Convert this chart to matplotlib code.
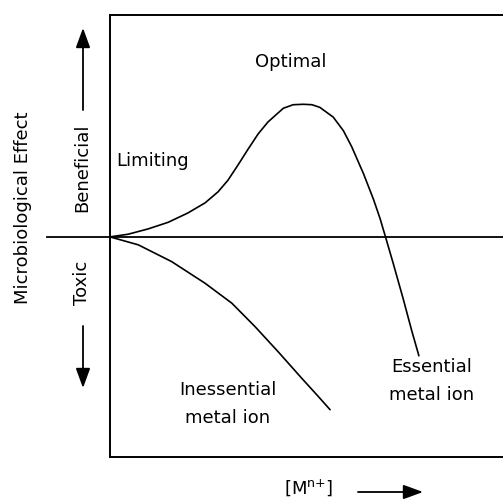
import matplotlib
matplotlib.use("Agg")
import matplotlib.pyplot as plt

# Essential metal ion curve (concentration, effect) in arbitrary units
ess_x = [0.00, 0.46, 0.97, 1.48, 1.98, 2.42, 2.75, 3.00, 3.26, 3.51, 3.77, 4.02,
         4.41, 4.66, 4.92, 5.14, 5.34, 5.68, 5.94, 6.15, 6.45, 6.70, 6.87, 7.01,
         7.21, 7.46, 7.68, 7.86]
ess_y = [0.00, 0.06, 0.18, 0.33, 0.54, 0.77, 1.02, 1.28, 1.63, 1.98, 2.33, 2.60,
         2.91, 2.99, 3.00, 2.99, 2.93, 2.71, 2.40, 2.04, 1.43, 0.86, 0.42, 0.00,
         -0.61, -1.40, -2.13, -2.69]

# Inessential metal ion curve
iness_x = [0.00, 0.72, 1.57, 2.42, 3.10, 3.69, 4.28, 4.88, 5.30, 5.60]
iness_y = [0.00, -0.18, -0.56, -1.05, -1.50, -2.03, -2.60, -3.20, -3.61, -3.91]

W, H = 503, 499
fig = plt.figure(figsize=(W / 100, H / 100), dpi=100)
plt.rcParams['font.family'] = ['DejaVu Sans']

left, right, top, bottom = 110, 503, 15, 457
ax = fig.add_axes([left / W, (H - bottom) / H, (right - left) / W, (bottom - top) / H])
ax.set_xlim(0, 10)
ax.set_ylim(-4.98, 5.02)
ax.set_xticks([])
ax.set_yticks([])
for s in ['left', 'top', 'bottom']:
    ax.spines[s].set_linewidth(1.4)
ax.spines['right'].set_visible(False)

# zero line extending left of the frame
ax.axhline(0, xmin=-0.16, xmax=1, clip_on=False, color='k', lw=1.3)

ax.plot(ess_x, ess_y, color='k', lw=1.2, solid_capstyle='round', solid_joinstyle='round')
ax.plot(iness_x, iness_y, color='k', lw=1.2, solid_capstyle='round', solid_joinstyle='round')

fs = 13
def px(x, y):
    return x, H - y

kw = dict(xycoords='figure pixels', fontsize=fs, va='center')
ax.annotate('Optimal', px(291, 62), ha='center', **kw)
ax.annotate('Limiting', px(116, 161), ha='left', **kw)
ax.annotate('Inessential\nmetal ion', px(228, 404), ha='center', multialignment='center',
            linespacing=1.7, **kw)
ax.annotate('Essential\nmetal ion', px(432, 381), ha='center', multialignment='center',
            linespacing=1.7, **kw)
ax.annotate(r'[M$^{\rm n{+}}$]', px(309, 488), ha='center', **kw)
ax.annotate('Microbiological Effect', px(23, 208), ha='center', rotation=90, **kw)
ax.annotate('Beneficial', px(82, 168), ha='center', rotation=90, **kw)
ax.annotate('Toxic', px(82, 283), ha='center', rotation=90, **kw)

# arrows
ap = dict(arrowstyle='-|>,head_length=0.6,head_width=0.22', color='k', lw=1.3,
          mutation_scale=20, shrinkA=0, shrinkB=0)
ax.annotate('', xy=px(83, 28), xytext=px(83, 110), xycoords='figure pixels',
            textcoords='figure pixels', arrowprops=ap)
ax.annotate('', xy=px(83, 388), xytext=px(83, 326), xycoords='figure pixels',
            textcoords='figure pixels', arrowprops=ap)
ax.annotate('', xy=px(423, 492), xytext=px(358, 492), xycoords='figure pixels',
            textcoords='figure pixels', arrowprops=ap)

fig.savefig('out.png', dpi=100)
